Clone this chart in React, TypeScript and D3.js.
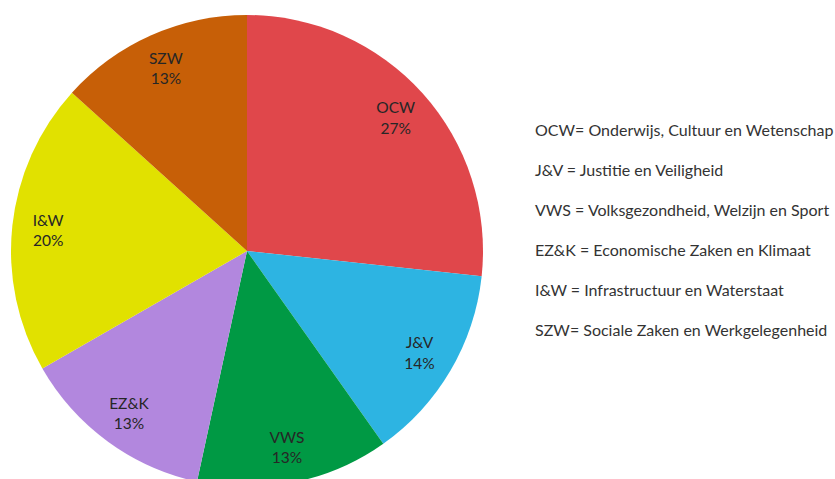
import React from "react";
import * as d3 from "d3";

const categories = ["OCW", "J&V", "VWS", "EZ&K", "I&W", "SZW"];
const shares = [26.7, 13.5, 13.2, 13.3, 20.0, 13.3];
const colors = ["#e0474b", "#2db4e2", "#009944", "#b287de", "#e1e100", "#c75f07"];
const legendLines = [
  "OCW= Onderwijs, Cultuur en Wetenschap",
  "J&V = Justitie en Veiligheid",
  "VWS = Volksgezondheid, Welzijn en Sport",
  "EZ&K = Economische Zaken en Klimaat",
  "I&W = Infrastructuur en Waterstaat",
  "SZW= Sociale Zaken en Werkgelegenheid",
];

const width = 835;
const height = 479;
const cx = 247;
const cy = 251;
const radius = 236;

const App = () => {
  const data = categories.map((c, i) => ({ name: c, value: shares[i], color: colors[i] }));
  const pie = d3.pie<any>().sort(null).value((d) => d.value);
  const arcs = pie(data);
  const arc = d3.arc<any>().innerRadius(0).outerRadius(radius);
  const labelArc = d3.arc<any>().innerRadius(200).outerRadius(200);

  const legendY = d3.scalePoint().domain(legendLines).range([132, 332]);

  return (
    <svg
      width={width}
      height={height}
      style={{ position: "absolute", left: 0, top: 0, fontFamily: "Lato, sans-serif" }}
    >
      <rect width={width} height={height} fill="#ffffff" />
      <g transform={`translate(${cx},${cy})`}>
        {arcs.map((a, i) => (
          <path key={i} d={arc(a) || ""} fill={a.data.color} />
        ))}
        {arcs.map((a, i) => {
          const [x, y] = labelArc.centroid(a);
          return (
            <text key={i} x={x} y={y} textAnchor="middle" fontSize={15.5} fill="#262626">
              <tspan x={x} dy="-0.25em">{a.data.name}</tspan>
              <tspan x={x} dy="1.3em">{Math.round(a.data.value)}%</tspan>
            </text>
          );
        })}
      </g>
      {legendLines.map((t) => (
        <text
          key={t}
          x={535}
          y={legendY(t)}
          dominantBaseline="middle"
          fontSize={16}
          fill="#333333"
        >
          {t}
        </text>
      ))}
    </svg>
  );
};

export default App;
